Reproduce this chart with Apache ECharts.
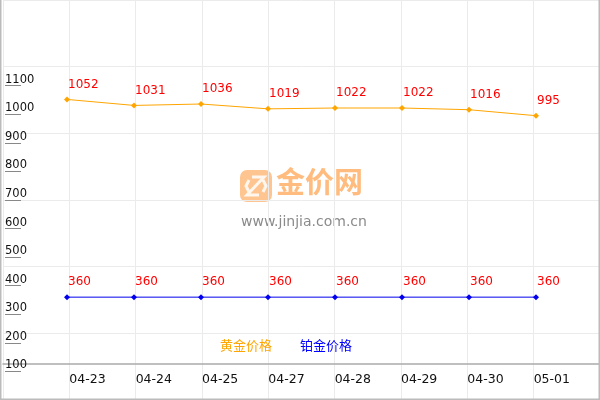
<!DOCTYPE html>
<html><head><meta charset="utf-8">
<script src="https://cdn.jsdelivr.net/npm/echarts@6/dist/echarts.min.js"></script>
<style>html,body{margin:0;padding:0;background:#fff;overflow:hidden}#c{width:603px;height:400px}</style>
</head><body><div id="c"></div>
<script>
const dates = ['04-23','04-24','04-25','04-27','04-28','04-29','04-30','05-01'];
const goldPrices = [1052,1031,1036,1019,1022,1022,1016,995];
const platinumPrices = [360,360,360,360,360,360,360,360];
const seriesNames = ['黄金价格','铂金价格'];
const yTickMin = 100, yTickMax = 1100, yTickStep = 100;

const cats = [''].concat(dates, ['']);
const pad = arr => [null].concat(arr, [null]);
const chart = echarts.init(document.getElementById('c'));
const font = 'DejaVu Sans, Verdana, sans-serif';
const labelCfg = {show:true, position:[4,-12], align:'left', verticalAlign:'middle', color:'#ff0000', fontSize:12, fontFamily:font};
chart.setOption({
  animation:false,
  grid:[
    {left:0,right:0,top:400*(1400-yTickMax)/1400,bottom:400*yTickMin/1400},
    {left:0,right:0,top:0,bottom:0}
  ],
  legend:{left:210,top:334,itemWidth:0,itemHeight:0,itemGap:23,icon:'rect',
    textStyle:{fontSize:13,fontFamily:'Noto Sans CJK SC, sans-serif'},
    data:[{name:seriesNames[0],textStyle:{color:'#FFA500'}},{name:seriesNames[1],textStyle:{color:'#0000FF'}}]},
  xAxis:[
    {gridIndex:0,type:'category',data:cats,boundaryGap:false,show:false},
    {gridIndex:1,type:'category',data:cats,boundaryGap:false,position:'bottom',offset:-36,
      axisLine:{show:true,lineStyle:{color:'#aaaaaa',width:1.5}},axisTick:{show:false},
      axisLabel:{interval:0,align:'left',margin:9,color:'#111',fontSize:12.5,fontFamily:font},
      splitLine:{show:true,interval:0,lineStyle:{color:'#ebebeb',width:1}}}
  ],
  yAxis:[
    {gridIndex:0,type:'value',min:yTickMin,max:yTickMax,interval:yTickStep,offset:-5,
      axisLine:{show:false},axisTick:{show:true,inside:true,length:16,lineStyle:{color:'#888'}},
      axisLabel:{inside:true,margin:0,verticalAlign:'bottom',color:'#111',fontSize:11.5,fontFamily:font,
        formatter:v=>String(v)},
      splitLine:{show:false}},
    {gridIndex:1,type:'value',min:0,max:6,interval:1,
      axisLine:{show:false},axisTick:{show:false},axisLabel:{show:false},
      splitLine:{show:true,lineStyle:{color:'#ebebeb',width:1}}}
  ],
  graphic:[
    {type:'polyline',silent:true,z:50,shape:{points:[[0.75,0],[0.75,399.25],[599.25,399.25],[599.25,0]]},style:{stroke:'#bbbbbb',lineWidth:1.5,fill:null}},
    {type:'rect',silent:true,z:-1,shape:{x:240,y:170,width:32,height:32,r:7},style:{fill:'#FFC590'}},
    {type:'polyline',silent:true,z:-1,shape:{points:[[252,177],[264,177],[247,195],[259,195]]},style:{stroke:'#fff7ee',lineWidth:3,fill:null}},
    {type:'polyline',silent:true,z:-1,shape:{points:[[249,180],[246,186],[249,192]]},style:{stroke:'#fff7ee',lineWidth:3,fill:null}},
    {type:'polyline',silent:true,z:-1,shape:{points:[[263,180],[266,186],[263,192]]},style:{stroke:'#fff7ee',lineWidth:3,fill:null}},
    {type:'text',silent:true,z:-1,left:276,top:167,style:{text:'金价网',font:'bold 29px "Noto Sans CJK SC"',fill:'#FFBC7E'}},
    {type:'text',silent:true,z:-1,left:241,top:215,style:{text:'www.jinjia.com.cn',font:'14px "DejaVu Sans"',fill:'#8a8a8a'}}
  ],
  series:[
    {name:seriesNames[0],type:'line',xAxisIndex:0,yAxisIndex:0,data:pad(goldPrices),
      color:'#FFA500',lineStyle:{width:1,color:'#FFA500'},symbol:'diamond',symbolSize:6,
      itemStyle:{color:'#FFA500'},label:labelCfg},
    {name:seriesNames[1],type:'line',xAxisIndex:0,yAxisIndex:0,data:pad(platinumPrices),
      color:'#0000FF',lineStyle:{width:1,color:'#0000EE'},symbol:'diamond',symbolSize:6,
      itemStyle:{color:'#0000EE'},label:labelCfg}
  ]
});
</script></body></html>
